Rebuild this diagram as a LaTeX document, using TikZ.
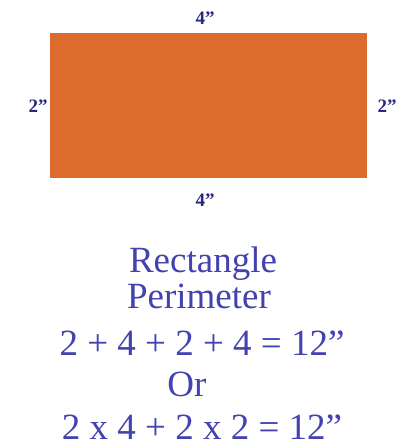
\documentclass[tikz,border=0pt]{standalone}
\usepackage{fontspec}
\setmainfont{Liberation Serif}
\definecolor{rectorange}{RGB}{220,108,46}
\definecolor{labelnavy}{RGB}{40,40,128}
\definecolor{textblue}{RGB}{66,66,176}
\tikzset{
  dimlabel/.style={text=labelnavy, font=\fontsize{19}{21}\selectfont\bfseries, inner sep=0pt},
  bodytext/.style={text=textblue, font=\fontsize{37}{40}\selectfont, inner sep=0pt, anchor=base}
}
\begin{document}
\begin{tikzpicture}[x=1pt,y=-1pt]
\useasboundingbox (0,0) rectangle (408,448);
\fill[white] (0,0) rectangle (408,448);
\node[draw=none, fill=rectorange, minimum width=317pt, minimum height=145pt, inner sep=0pt, anchor=north west] (rect) at (50,33) {};
\node[dimlabel] (top) at (205,18) {4”};
\node[dimlabel] (bottom) at (205,200) {4”};
\node[dimlabel] (left) at (38,106) {2”};
\node[dimlabel] (right) at (387,106) {2”};
\node[bodytext] (l1) at (203,272) {Rectangle};
\node[bodytext] (l2) at (199,308) {Perimeter};
\node[bodytext] (l3) at (202,355) {2 + 4 + 2 + 4 = 12”};
\node[bodytext] (l4) at (187,396) {Or};
\node[bodytext] (l5) at (202,439) {2 x 4 + 2 x 2 = 12”};
\end{tikzpicture}
\end{document}
